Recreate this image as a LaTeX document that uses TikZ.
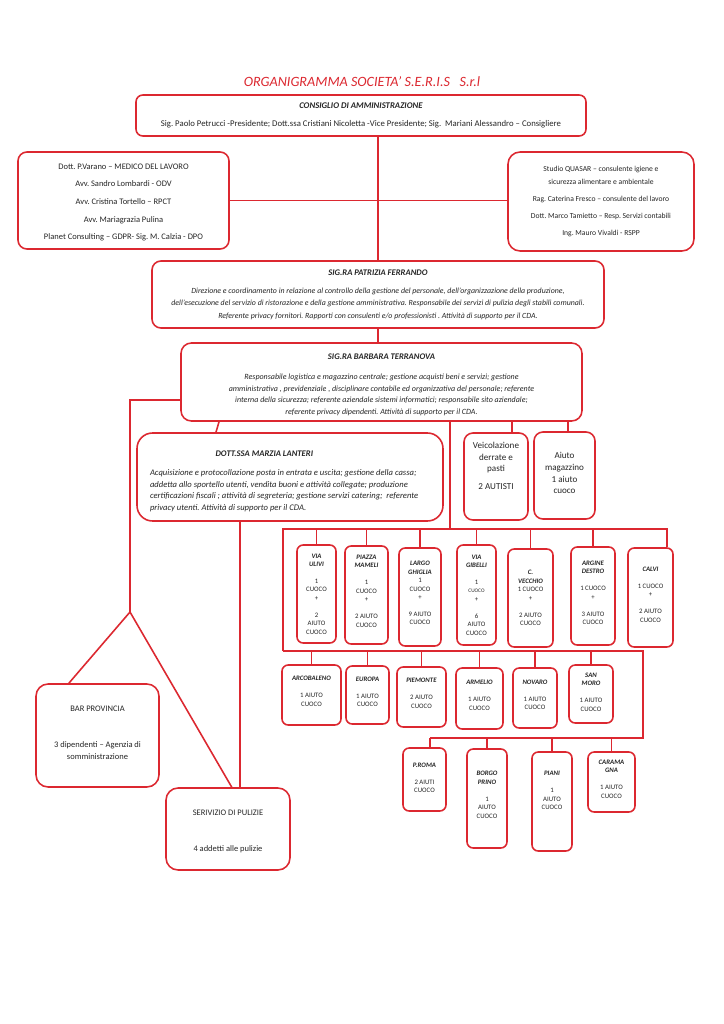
\documentclass[tikz,border=0pt]{standalone}
\usepackage{fontspec}
\setmainfont{Carlito}
\usetikzlibrary{calc}
\definecolor{orgred}{RGB}{220,40,48}
\frenchspacing
\newcommand{\hdr}[1]{\textbf{\textit{#1}}}
\newcommand{\topgap}[1]{\rule{0pt}{#1}}
\tikzset{
	link/.style={
		draw=orgred,
		line width=1.3pt,
	},
	box/.style={
		draw=orgred,
		line width=1.3pt,
		rounded corners=2.6mm,
		inner sep=0pt,
		align=center,
		text=black!85,
		execute at begin node={\spaceskip=\fontdimen2\font\relax\xspaceskip=\fontdimen2\font\relax},
	},
	frame/.style 2 args={
		minimum width=#1*0.29mm,
		minimum height=#2*0.29mm,
	},
	textcol/.style={
		text width=#1*0.29mm,
	},
	staff/.style={
		box,
		font=\fontsize{6.5}{10.3}\selectfont\itshape,
	},
	site/.style={
		box,
		rounded corners=1.8mm,
		font=\fontsize{5.6}{7}\selectfont,
	},
	headline/.style={
		text=orgred,
		font=\fontsize{11.7}{13}\selectfont\itshape,
	},
}

\begin{document}
\begin{tikzpicture}[x=0.29mm,y=-0.29mm]
	\fill[white] (0,0) rectangle (724,1024);

	\node[headline] (title) at (362,82) {ORGANIGRAMMA SOCIETA’ S.E.R.I.S\ \ \ S.r.l};

	\node[box, frame={450}{41}, textcol=440, rounded corners=2mm, font=\fontsize{7.2}{14.8}\selectfont] (cda) at (361,115.5) {\hdr{CONSIGLIO DI AMMINISTRAZIONE}\\Sig. Paolo Petrucci -Presidente; Dott.ssa Cristiani Nicoletta -Vice Presidente; Sig.\ \ Mariani Alessandro – Consigliere};
	\node[box, frame={211}{97}, textcol=200, font=\fontsize{7}{14.6}\selectfont] (advisors) at (123.5,200.5) {\topgap{7.9pt}Dott. P.Varano – MEDICO DEL LAVORO\\Avv. Sandro Lombardi - ODV\\Avv. Cristina Tortello – RPCT\\Avv. Mariagrazia Pulina\\Planet Consulting – GDPR- Sig. M. Calzia - DPO};
	\node[box, frame={186}{99}, textcol=180, rounded corners=3.5mm, font=\fontsize{6.3}{10.7}\selectfont] (consult) at (601,201.5) {Studio QUASAR – consulente igiene e\\sicurezza alimentare e ambientale\\[3.3pt]Rag. Caterina Fresco – consulente del lavoro\\[3.3pt]Dott. Marco Tamietto – Resp. Servizi contabili\\[3.3pt]Ing. Mauro Vivaldi - RSPP};

	\node[staff, frame={452}{67}, textcol=445] (ferrando) at (378,294.5) {{\fontsize{7.1}{10.3}\selectfont\hdr{SIG.RA PATRIZIA FERRANDO}}\\[4.5pt]Direzione e coordinamento in relazione al controllo della gestione del personale, dell’organizzazione della produzione,\\dell’esecuzione del servizio di ristorazione e della gestione amministrativa. Responsabile dei servizi di pulizia degli stabili comunali.\\Referente privacy fornitori. Rapporti con consulenti e/o professionisti . Attività di supporto per il CDA.};
	\node[staff, frame={401}{78}, textcol=395, rounded corners=3mm, font=\fontsize{6.6}{9.6}\selectfont\itshape] (terranova) at (381.5,382) {\topgap{9.6pt}{\fontsize{7.1}{9.6}\selectfont\hdr{SIG.RA BARBARA TERRANOVA}}\\[6.9pt]Responsabile logistica e magazzino centrale; gestione acquisti beni e servizi; gestione\\amministrativa , previdenziale , disciplinare contabile ed organizzativa del personale; referente\\interna della sicurezza; referente aziendale sistemi informatici; responsabile sito aziendale;\\referente privacy dipendenti. Attività di supporto per il CDA.};
	\node[staff, frame={306}{88}, textcol=280, align=left, rounded corners=4.5mm, font=\fontsize{7.1}{9.5}\selectfont\itshape] (lanteri) at (290,477) {\topgap{12pt}\hspace*{19mm}\hdr{DOTT.SSA MARZIA LANTERI}\\[6.1pt]Acquisizione e protocollazione posta in entrata e uscita; gestione della cassa;\\addetta allo sportello utenti, vendita buoni e attività collegate; produzione\\certificazioni fiscali ; attività di segreteria; gestione servizi catering;\ \ referente\\privacy utenti. Attività di supporto per il CDA.};

	\node[box, frame={64}{87}, font=\fontsize{7.5}{9.5}\selectfont] (veicoli) at (496,476.5) {Veicolazione\\derrate e\\pasti\\[5.3pt]2 AUTISTI\\[8pt]\mbox{}};
	\node[box, frame={61}{87}, font=\fontsize{7.5}{9.6}\selectfont] (magazzino) at (564.5,475.5) {Aiuto\\magazzino\\1 aiuto\\cuoco\\[-5.6pt]\mbox{}};

	\node[box, frame={123}{103}, rounded corners=3.5mm, font=\fontsize{7}{9.9}\selectfont] (bar) at (97.5,735.5) {BAR PROVINCIA\\[19.8pt]3 dipendenti – Agenzia di\\somministrazione\\[-4.9pt]\mbox{}};
	\node[box, frame={124}{82}, textcol=110, rounded corners=3.5mm, font=\fontsize{7}{9.9}\selectfont] (pulizie) at (228,829) {\topgap{8.7pt}SERIVIZIO DI PULIZIE\\[19.8pt]4 addetti alle pulizie};

	\node[site, frame={39}{98}] (ulivi) at (316.5,594) {\hdr{VIA}\\\hdr{ULIVI}\\[7pt]1\\CUOCO\\+\\[7pt]2\\AIUTO\\CUOCO};
	\node[site, frame={43}{98}] (mameli) at (366.5,595) {\hdr{PIAZZA}\\\hdr{MAMELI}\\[7pt]1\\CUOCO\\+\\[7pt]2 AIUTO\\CUOCO\\[-0.5pt]\mbox{}};
	\node[site, frame={42}{98}] (ghiglia) at (420,597) {\hdr{LARGO}\\\hdr{GHIGLIA}\\1\\CUOCO\\+\\[7pt]9 AIUTO\\CUOCO\\[-0.5pt]\mbox{}};
	\node[site, frame={39}{100}] (gibelli) at (476.5,595) {\hdr{VIA}\\\hdr{GIBELLI}\\[7pt]1\\{\fontsize{4.4}{7}\selectfont CUOCO}\\+\\[7pt]6\\AIUTO\\CUOCO};
	\node[site, frame={45}{98}] (vecchio) at (530.5,598) {\hdr{C.}\\\hdr{VECCHIO}\\1 CUOCO\\+\\[7pt]2 AIUTO\\CUOCO};
	\node[site, frame={44}{98}] (argine) at (593,596) {\hdr{ARGINE}\\\hdr{DESTRO}\\[7pt]1 CUOCO\\+\\[7pt]3 AIUTO\\CUOCO\\[-2pt]\mbox{}};
	\node[site, frame={45}{99}] (calvi) at (650.5,597.5) {\hdr{CALVI}\\[7pt]1 CUOCO\\+\\[7pt]2 AIUTO\\CUOCO\\[-2pt]\mbox{}};

	\node[site, frame={59}{60}] (arcobaleno) at (311.5,695) {\hdr{ARCOBALENO}\\[7pt]1 AIUTO\\CUOCO\\[-0.5pt]\mbox{}};
	\node[site, frame={43}{58}] (europa) at (367.5,695) {\hdr{EUROPA}\\[7pt]1 AIUTO\\CUOCO\\[-2pt]\mbox{}};
	\node[site, frame={49}{60}] (piemonte) at (421.5,697) {\hdr{PIEMONTE}\\[7pt]2 AIUTO\\CUOCO\\[-0.5pt]\mbox{}};
	\node[site, frame={47}{61}] (armelio) at (479.5,698.5) {\hdr{ARMELIO}\\[7pt]1 AIUTO\\CUOCO\\[-2pt]\mbox{}};
	\node[site, frame={44}{60}] (novaro) at (535,698) {\hdr{NOVARO}\\[7pt]1 AIUTO\\CUOCO\\[-2pt]\mbox{}};
	\node[site, frame={44}{58}] (sanmoro) at (591,694) {\hdr{SAN}\\\hdr{MORO}\\[7pt]1 AIUTO\\CUOCO\\[-4pt]\mbox{}};

	\node[site, frame={43}{63}] (proma) at (424.5,779.5) {\hdr{P.ROMA}\\[7pt]2 AIUTI\\CUOCO\\[-4pt]\mbox{}};
	\node[site, frame={40}{99}] (borgo) at (487,798.5) {\hdr{BORGO}\\\hdr{PRINO}\\[7pt]1\\AIUTO\\CUOCO\\[-0.5pt]\mbox{}};
	\node[site, frame={40}{99}] (piani) at (552,801.5) {\hdr{PIANI}\\[7pt]1\\AIUTO\\CUOCO\\[11.3pt]\mbox{}};
	\node[site, frame={47}{60}] (caramagna) at (611.5,782) {\hdr{CARAMA}\\\hdr{GNA}\\[7pt]1 AIUTO\\CUOCO\\[-2pt]\mbox{}};

	\coordinate (split) at (130,612);
	\coordinate (busa) at (283,529);
	\coordinate (busb) at (283,651);
	\coordinate (busbend) at (643,651);
	\coordinate (busc) at (430,738);
	\coordinate (calvidrop) at ($(calvi.north east)+(-7,0)$);

	\draw[link] (ferrando.north |- cda.south) -- (ferrando.north);
	\draw[link] (advisors.east) -- (advisors.east -| consult.west);
	\draw[link] (ferrando.south) -- (ferrando.south |- terranova.north);
	\draw[link] ($(terranova.west)+(0,18)$) -| (split);
	\draw[link] ($(bar.north west)!0.27!(bar.north east)$) -- (split) -- ($(pulizie.north west)!0.53!(pulizie.north east)$);
	\draw[link] (terranova.south -| 219,0) -- (lanteri.north -| 216,0);
	\draw[link] (lanteri.south -| 240,0) -- (pulizie.north -| 240,0);
	\draw[link] (terranova.south -| 512,0) -- (veicoli.north -| 512,0);
	\draw[link] (terranova.south -| 568,0) -- (magazzino.north -| 568,0);
	\draw[link] (terranova.south -| 450,0) -- (busa -| 450,0);

	\draw[link] (busb) -- (busa) -| (calvidrop);
	\foreach \site in {ulivi,mameli,ghiglia,gibelli,vecchio,argine}
		\draw[link] (\site.north) -- (\site.north |- busa);
	\draw[link] (busb) -- (busbend) |- (busc);
	\foreach \site in {arcobaleno,europa,piemonte,armelio,novaro,sanmoro}
		\draw[link] (\site.north) -- (\site.north |- busb);
	\draw[link] (busc) -- (busc |- proma.north);
	\foreach \site in {borgo,piani,caramagna}
		\draw[link] (\site.north) -- (\site.north |- busc);

\end{tikzpicture}
\end{document}
